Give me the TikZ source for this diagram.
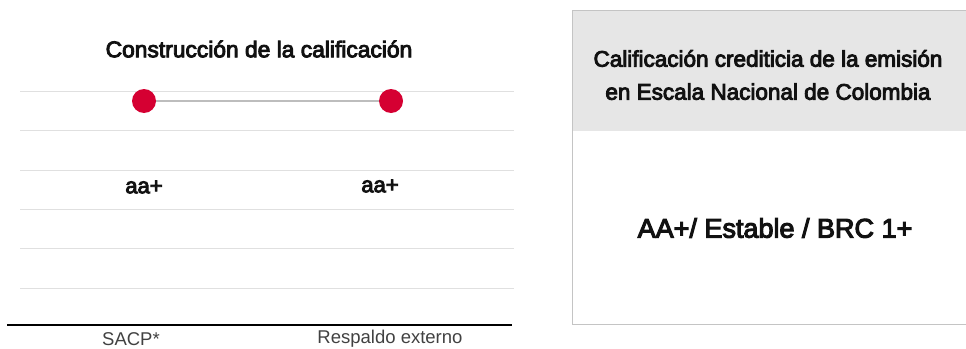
\documentclass[tikz,border=0pt]{standalone}
\usepackage{fontspec}
\setmainfont{Liberation Sans}
\newfontfamily\medfont{Liberation Sans}[FakeBold=4]
\definecolor{gridc}{HTML}{E0E0E0}
\definecolor{dotred}{HTML}{D50032}
\definecolor{linkc}{HTML}{BDBDBD}
\definecolor{headc}{HTML}{E6E6E6}
\definecolor{boxc}{HTML}{C4C4C4}
\definecolor{txt}{HTML}{111111}
\begin{document}
\begin{tikzpicture}[x=1pt,y=-1pt,
  gridline/.style={gridc,line width=1pt},
  dotnode/.style={circle,fill=dotred,minimum size=24pt,inner sep=0pt},
  rating/.style={font=\medfont\fontsize{22}{24}\selectfont,text=txt},
  axislabel/.style={font=\fontsize{18.5}{20}\selectfont,text=txt!80},
  headtext/.style={font=\medfont\fontsize{22.5}{33}\selectfont,text=txt,align=center}]
\useasboundingbox (0,0) rectangle (966,348);
% grid
\foreach \y in {91,130,170,209,248,288} \draw[gridline] (20,\y) -- (514,\y);
\draw[black,line width=1.6pt] (7,325) -- (512,325);
% title
\node[font=\medfont\fontsize{22.8}{24}\selectfont,text=txt] (title) at (259,49) {Construcción de la calificación};
% dots
\node[dotnode] (d1) at (144,101) {};
\node[dotnode] (d2) at (391,101) {};
\draw[linkc,line width=1.5pt] (d1) -- (d2);
\node[rating] (r1) at (144,187) {aa+};
\node[rating] (r2) at (380,186) {aa+};
\node[axislabel] (l1) at (131,339) {SACP*};
\node[axislabel] (l2) at (390,339) {Respaldo externo};
% right box
\fill[headc] (572,10) rectangle (966,131);
\draw[boxc,line width=1pt] (966,10) -- (572,10) -- (572,324) -- (966,324);
\node[headtext] (h) at (768,75) {Calificación crediticia de la emisión\\en Escala Nacional de Colombia};
\node[font=\medfont\fontsize{27}{30}\selectfont,text=txt] (res) at (775,228) {AA+/ Estable / BRC 1+};
\end{tikzpicture}
\end{document}
